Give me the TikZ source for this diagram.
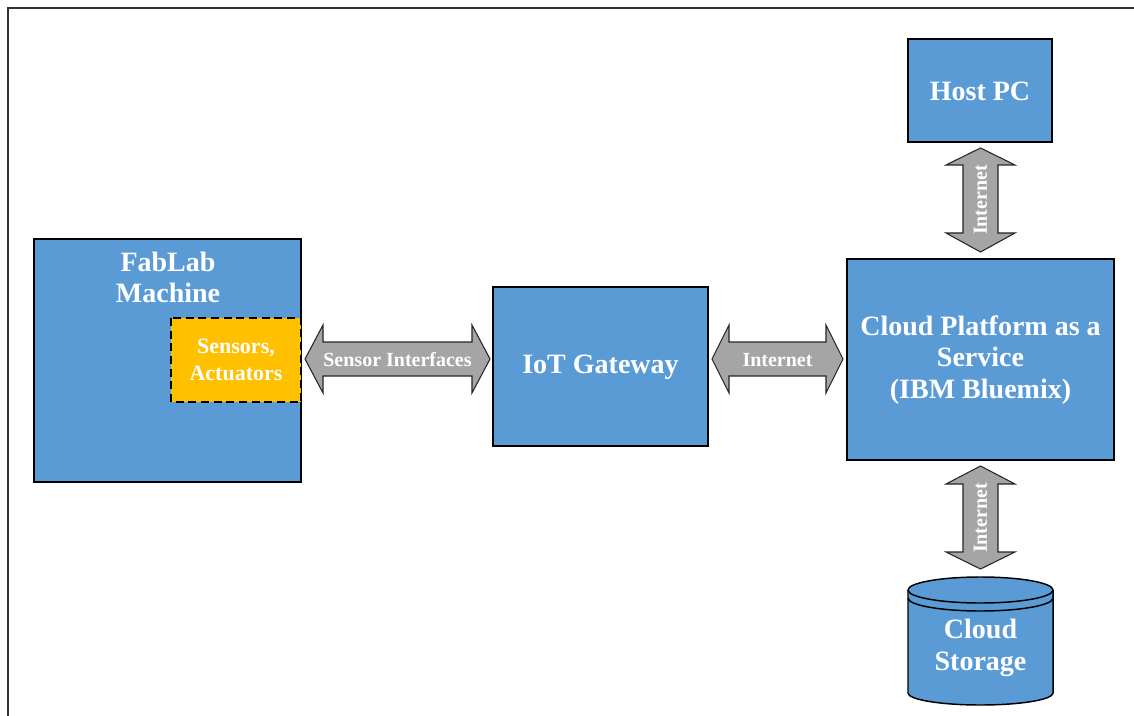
\documentclass[tikz,border=0pt]{standalone}
\usepackage{fontspec}
\setmainfont{Liberation Serif}
\definecolor{boxblue}{HTML}{5B9BD5}
\definecolor{sensyellow}{HTML}{FFC000}
\definecolor{arrgray}{HTML}{A5A5A5}
\begin{document}
\begin{tikzpicture}[x=0.75pt,y=-0.75pt,
  blockbox/.style={draw=black,line width=1.1pt,fill=boxblue},
  arrowbody/.style={draw=black!85,line width=0.8pt,fill=arrgray},
  bigtxt/.style={text=white,font=\bfseries\fontsize{21}{23.5}\selectfont,align=center},
  arrtxt/.style={text=white,font=\bfseries\fontsize{15}{16}\selectfont,inner sep=0pt}]
\useasboundingbox (0,0) rectangle (1134,716);
% frame
\draw[line width=1pt,black!80] (8,716) -- (8,8) -- (1134,8);

% FabLab machine
\path[blockbox] (34,239) rectangle (301,482);
\node[bigtxt,anchor=north] (fab) at (168,247) {FabLab\\Machine};
% Sensors
\path[draw=black,line width=1.1pt,fill=sensyellow,dash pattern=on 6pt off 3.5pt] (171,318) rectangle (301,402);
\node[text=white,font=\bfseries\fontsize{16.5}{20}\selectfont,align=center] (sens) at (236,360) {Sensors,\\Actuators};

% IoT Gateway
\path[blockbox] (493,287) rectangle (708,446);
\node[bigtxt] (iot) at (600.5,367) {IoT Gateway};

% Cloud platform
\path[blockbox] (847,259) rectangle (1114,460);
\node[bigtxt,align=center,font=\bfseries\fontsize{21}{23.6}\selectfont] (cloud) at (980.5,360) {Cloud Platform as a\\Service\\(IBM Bluemix)};

% Host PC
\path[blockbox] (908,39) rectangle (1052,142);
\node[bigtxt] (host) at (980,91) {Host PC};

% Cloud storage cylinder
\path[blockbox] (908,590) -- (908,693) arc[start angle=180,end angle=0,x radius=72.5,y radius=12] -- (1053,590) arc[start angle=0,end angle=-180,x radius=72.5,y radius=13] -- cycle;
\draw[line width=1.1pt] (908,590) arc[start angle=180,end angle=0,x radius=72.5,y radius=13];
\draw[line width=1.1pt] (908,598) arc[start angle=180,end angle=0,x radius=72.5,y radius=13];
\node[bigtxt] (store) at (980.5,648) {Cloud\\Storage};

% Sensor interfaces arrow
\path[arrowbody] (305,359) -- (323,325) -- (323,342) -- (472,342) -- (472,325) -- (490,359) -- (472,393) -- (472,376) -- (323,376) -- (323,393) -- cycle;
\node[arrtxt] (si) at (397.5,360) {Sensor Interfaces};

% Internet horizontal
\path[arrowbody] (712,359) -- (729,325) -- (729,342) -- (826,342) -- (826,325) -- (843,359) -- (826,393) -- (826,376) -- (729,376) -- (729,393) -- cycle;
\node[arrtxt] (inh) at (777.5,360) {Internet};

% Internet vertical top
\path[arrowbody] (980.5,148) -- (1015,165) -- (998,165) -- (998,233) -- (1015,233) -- (980.5,252) -- (946,233) -- (963,233) -- (963,165) -- (946,165) -- cycle;
\node[arrtxt,rotate=90] (inv1) at (980.5,200) {Internet};

% Internet vertical bottom
\path[arrowbody] (980.5,466) -- (1015,484) -- (998,484) -- (998,552) -- (1015,552) -- (980.5,569) -- (946,552) -- (963,552) -- (963,484) -- (946,484) -- cycle;
\node[arrtxt,rotate=90] (inv2) at (980.5,518) {Internet};
\end{tikzpicture}
\end{document}
